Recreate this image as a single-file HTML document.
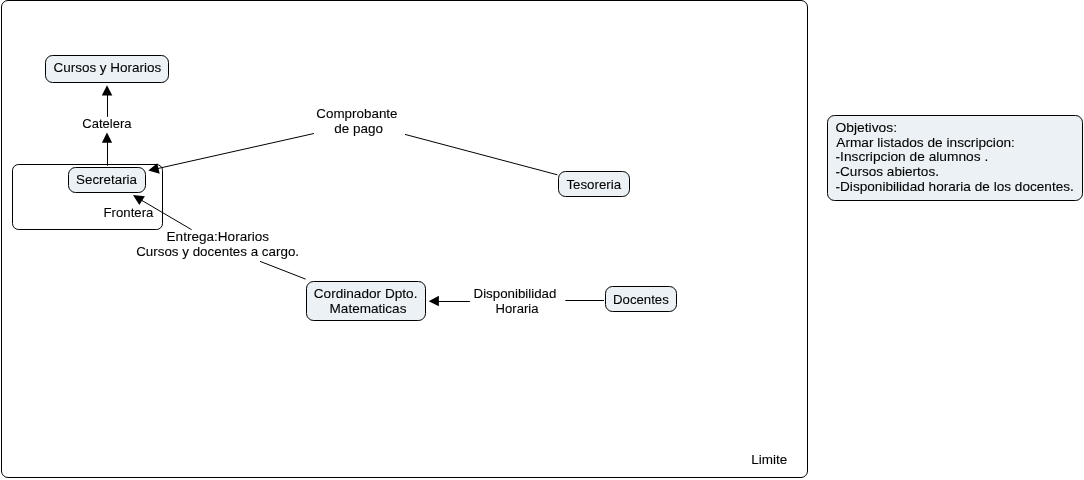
<!DOCTYPE html>
<html><head><meta charset="utf-8"><style>
html,body{margin:0;padding:0;background:#fff;width:1084px;height:480px;overflow:hidden}
svg{display:block;will-change:transform}
text{font-family:"Liberation Sans",sans-serif;font-size:12px;fill:#000;stroke:#000;stroke-width:0.08px}
</style></head><body>
<svg width="1084" height="480" viewBox="0 0 1084 480">
<rect width="1084" height="480" fill="#fff"/>
<rect x="1.5" y="0.5" width="806" height="477" rx="6.5" ry="6.5" fill="none" stroke="#000" stroke-width="1"/>
<rect x="12.5" y="164.5" width="150" height="65" rx="6" ry="6" fill="none" stroke="#000" stroke-width="1"/>
<rect x="45.5" y="55.5" width="123" height="27" rx="7" ry="7" fill="#ebf1f4" stroke="#000" stroke-width="1"/>
<rect x="68.5" y="167.5" width="77" height="25" rx="7" ry="7" fill="#ebf1f4" stroke="#000" stroke-width="1"/>
<rect x="558.5" y="171.5" width="71" height="25" rx="7" ry="7" fill="#ebf1f4" stroke="#000" stroke-width="1"/>
<rect x="306.5" y="281.5" width="119" height="39" rx="7" ry="7" fill="#ebf1f4" stroke="#000" stroke-width="1"/>
<rect x="605.5" y="286.5" width="71" height="25" rx="7" ry="7" fill="#ebf1f4" stroke="#000" stroke-width="1"/>
<rect x="827.5" y="115.5" width="255" height="85" rx="7" ry="7" fill="#ebf1f4" stroke="#000" stroke-width="1"/>
<line x1="107.5" y1="95" x2="107.5" y2="116.4" stroke="#000" stroke-width="1" stroke-linecap="round"/>
<polygon points="107.0,85.2 101.8,95.6 112.3,95.6" fill="#000"/>
<line x1="107.5" y1="142" x2="107.5" y2="165.3" stroke="#000" stroke-width="1" stroke-linecap="round"/>
<polygon points="107.0,132.5 101.9,142.8 112.1,142.8" fill="#000"/>
<line x1="313.6" y1="133.6" x2="158.25" y2="168.4" stroke="#000" stroke-width="1" stroke-linecap="round"/>
<polygon points="148.3,170.6 159.7,173.7 157.2,163.3" fill="#000"/>
<line x1="405.4" y1="134.5" x2="557" y2="174.7" stroke="#000" stroke-width="1" stroke-linecap="round"/>
<line x1="191.3" y1="229.5" x2="141.8" y2="200.4" stroke="#000" stroke-width="1" stroke-linecap="round"/>
<polygon points="133.0,195.0 139.3,204.9 144.9,196.2" fill="#000"/>
<line x1="260.4" y1="261.5" x2="305.3" y2="279.0" stroke="#000" stroke-width="1" stroke-linecap="round"/>
<line x1="438.6" y1="301.5" x2="469.5" y2="301.5" stroke="#000" stroke-width="1" stroke-linecap="round"/>
<polygon points="428.7,301.2 438.9,295.7 438.9,306.3" fill="#000"/>
<line x1="565.7" y1="300.5" x2="603.6" y2="300.5" stroke="#000" stroke-width="1" stroke-linecap="round"/>
<text transform="translate(107.35,71.7) scale(1.12332,1)" text-anchor="middle">Cursos y Horarios</text>
<text transform="translate(106.9,127.75) scale(1.0878,1)" text-anchor="middle">Catelera</text>
<text transform="translate(106.55,183.5) scale(1.11555,1)" text-anchor="middle">Secretaria</text>
<text transform="translate(128.45,217.2) scale(1.0989,1)" text-anchor="middle">Frontera</text>
<text transform="translate(356.9,118.05) scale(1.11777,1)" text-anchor="middle">Comprobante</text>
<text transform="translate(358.7,132.5) scale(1.12443,1)" text-anchor="middle">de pago</text>
<text transform="translate(593.75,188.7) scale(1.11,1)" text-anchor="middle">Tesoreria</text>
<text transform="translate(217.8,240.8) scale(1.1299800000000002,1)" text-anchor="middle">Entrega:Horarios</text>
<text transform="translate(217.6,255.8) scale(1.1166600000000002,1)" text-anchor="middle">Cursos y docentes a cargo.</text>
<text transform="translate(365.6,297.8) scale(1.13664,1)" text-anchor="middle">Cordinador Dpto.</text>
<text transform="translate(368,312.6) scale(1.13109,1)" text-anchor="middle">Matematicas</text>
<text transform="translate(514.95,297.9) scale(1.11,1)" text-anchor="middle">Disponibilidad</text>
<text transform="translate(517,313.1) scale(1.08891,1)" text-anchor="middle">Horaria</text>
<text transform="translate(640.9,303.6) scale(1.10223,1)" text-anchor="middle">Docentes</text>
<text transform="translate(769.35,463.75) scale(1.1255400000000002,1)" text-anchor="middle">Limite</text>
<text transform="translate(835.5,131.6) scale(1.1553749999999998,1)" text-anchor="start">Objetivos:</text>
<text transform="translate(836.3,146.5) scale(1.14075,1)" text-anchor="start">Armar listados de inscripcion:</text>
<text transform="translate(835.5,161.2) scale(1.146375,1)" text-anchor="start">-Inscripcion de alumnos .</text>
<text transform="translate(835.5,175.9) scale(1.134,1)" text-anchor="start">-Cursos abiertos.</text>
<text transform="translate(835.5,190.5) scale(1.135125,1)" text-anchor="start">-Disponibilidad horaria de los docentes.</text>
</svg>
</body></html>
